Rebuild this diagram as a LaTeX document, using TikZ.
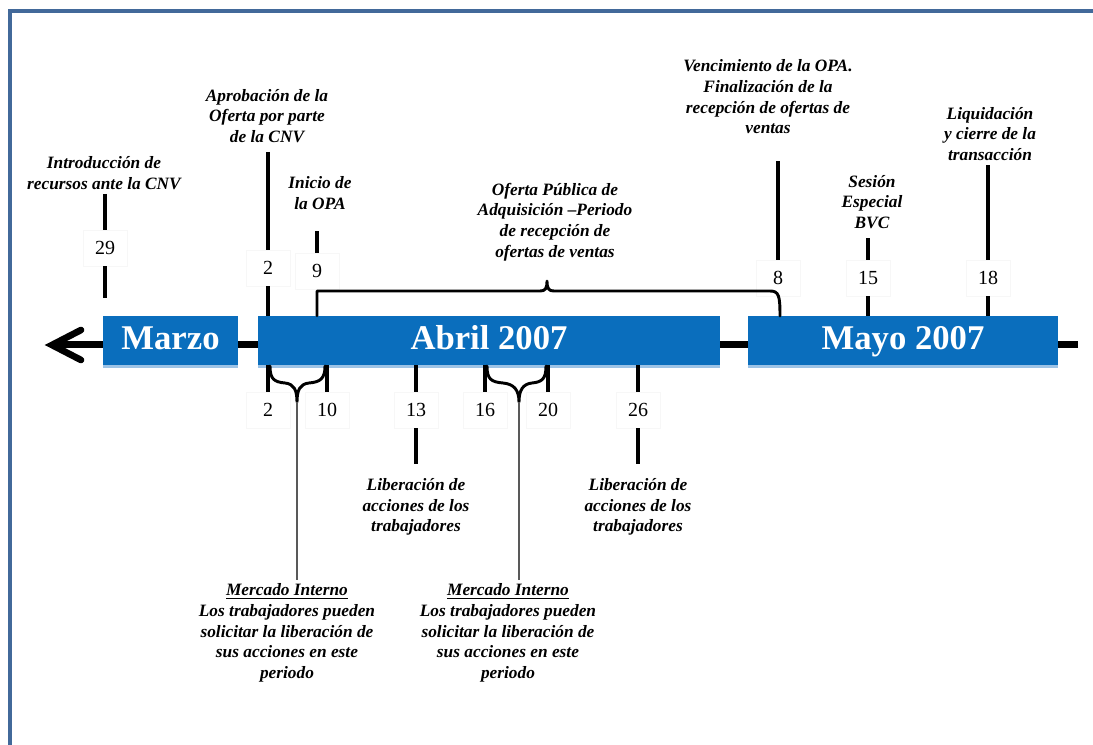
\documentclass[tikz,border=0pt]{standalone}
\usepackage{fontspec}
\setmainfont{Liberation Serif}
\usetikzlibrary{shadows}
\definecolor{framebl}{HTML}{42699A}
\definecolor{boxblue}{HTML}{0A6EBD}
\definecolor{boxlight}{HTML}{9DC3E6}
\begin{document}
\begin{tikzpicture}[x=0.75pt,y=-0.75pt,
  month/.style={fill=boxblue, text=white, font=\bfseries\fontsize{26}{30}\selectfont,
    minimum height=36.75pt, inner sep=0pt, text height=18pt, text depth=5pt,
    drop shadow={shadow xshift=0pt, shadow yshift=-2pt, fill=boxlight, opacity=1}},
  num/.style={fill=white, draw=black!3, font=\fontsize{15}{18}\selectfont,
    minimum width=33pt, minimum height=27pt, inner sep=0pt},
  lbl/.style={align=center, font=\bfseries\itshape\fontsize{13}{15.5}\selectfont, inner sep=3pt},
  tick/.style={line width=3pt},
  bracestyle/.style={line width=2.2pt, line join=round, line cap=round},
  lead/.style={line width=1.6pt, draw=black!65}]
\useasboundingbox (0,0) rectangle (1093,745);
% frame
\draw[framebl, line width=3pt] (10,745) -- (10,11) -- (1093,11);

% axis
\coordinate (axR) at (1078,345);
\coordinate (axL) at (52,345);
\draw[line width=5.25pt] (axR) -- (axL);
\draw[line width=5pt, line cap=round, line join=miter] (81,330) -- (axL) -- (81,360);

% month boxes
\node[month, minimum width=101.25pt] (marzo) at (170.5,340.5) {Marzo};
\node[month, minimum width=346.5pt] (abril) at (489,340.5) {Abril 2007};
\node[month, minimum width=232.5pt] (mayo) at (903,340.5) {Mayo 2007};

% top labels
\node[lbl] (l29) at (104,173) {Introducción de\\recursos ante la CNV};
\node[lbl] (l2) at (267,116) {Aprobación de la\\Oferta por parte\\de la CNV};
\node[lbl] (l9) at (320,193) {Inicio de\\la OPA};
\node[lbl] (lopa) at (555,222) {Oferta Pública de\\Adquisición –Periodo\\de recepción de\\ofertas de ventas};
\node[lbl] (l8) at (768,97) {Vencimiento de la OPA.\\Finalización de la\\recepción de ofertas de\\ventas};
\node[lbl] (l15) at (872,202) {Sesión\\Especial\\BVC};
\node[lbl] (l18) at (990,134) {Liquidación\\y cierre de la\\transacción};

% top numbers
\node[num] (t29) at (105,248) {29};
\node[num] (t2) at (268,268) {2};
\node[num] (t9) at (317,271) {9};
\node[num] (t8) at (778,278) {8};
\node[num] (t15) at (868,278) {15};
\node[num] (t18) at (988,278) {18};

% top ticks
\draw[tick] (l29.south -| t29) -- (t29.north);
\draw[tick] (t29.south) -- (t29.south |- marzo.north) [shorten >=13pt];
\draw[tick, shorten <=3.5pt] (l2.south -| t2) -- (t2.north);
\draw[tick] (t2.south) -- (t2.south |- abril.north);
\draw[tick, shorten <=13pt] (l9.south -| t9) -- (t9.north);
\draw[tick, shorten <=17pt] (l8.south -| t8) -- (t8.north);
\draw[tick, shorten <=4pt] (l15.south -| t15) -- (t15.north);
\draw[tick] (t15.south) -- (t15.south |- mayo.north);
\draw[tick] (l18.south -| t18) -- (t18.north);
\draw[tick] (t18.south) -- (t18.south |- mayo.north);

% top brace (OPA period)
\coordinate (bL) at (t9.south |- abril.north);
\coordinate (bR) at (780,316);
\coordinate (bTip) at (547,281);
\draw[bracestyle] (bL) -- (317,291) -- (540,291)
  .. controls (545,291) and (547,289) .. (bTip)
  .. controls (547,289) and (549,291) .. (554,291) -- (770,291)
  .. controls (779,291) and (780,296) .. (bR);

% bottom numbers
\node[num] (b2) at (268,410) {2};
\node[num] (b10) at (327,410) {10};
\node[num] (b13) at (416,410) {13};
\node[num] (b16) at (485,410) {16};
\node[num] (b20) at (548,410) {20};
\node[num] (b26) at (638,410) {26};
\foreach \n in {b2,b10,b13,b16,b20,b26}
  \draw[tick] (abril.south -| \n) -- (\n.north);

% bottom labels
\node[lbl] (lib13) at (416,507) {Liberación de\\acciones de los\\trabajadores};
\node[lbl] (lib26) at (638,507) {Liberación de\\acciones de los\\trabajadores};
\draw[tick, shorten >=8pt] (b13.south) -- (lib13.north -| b13);
\draw[tick, shorten >=8pt] (b26.south) -- (lib26.north -| b26);

\node[lbl] (m1) at (287,633) {\underline{Mercado Interno}\\Los trabajadores pueden\\solicitar la liberación de\\sus acciones en este\\periodo};
\node[lbl] (m2) at (508,633) {\underline{Mercado Interno}\\Los trabajadores pueden\\solicitar la liberación de\\sus acciones en este\\periodo};

% bottom braces
\coordinate (tipA) at (297,402);
\draw[bracestyle] (270,366) .. controls (270,379) and (274,382) .. (285,383)
  .. controls (294,384) and (297,390) .. (tipA)
  .. controls (297,390) and (300,384) .. (309,383)
  .. controls (320,382) and (325,379) .. (325,366);
\coordinate (tipB) at (519,402);
\draw[bracestyle] (487,366) .. controls (487,379) and (491,382) .. (503,383)
  .. controls (514,384) and (519,390) .. (tipB)
  .. controls (519,390) and (523,384) .. (532,383)
  .. controls (542,382) and (546,379) .. (546,366);

% lead lines
\draw[lead] (tipA) -- (tipA |- m1.north);
\draw[lead] (tipB) -- (tipB |- m2.north);
\end{tikzpicture}
\end{document}
